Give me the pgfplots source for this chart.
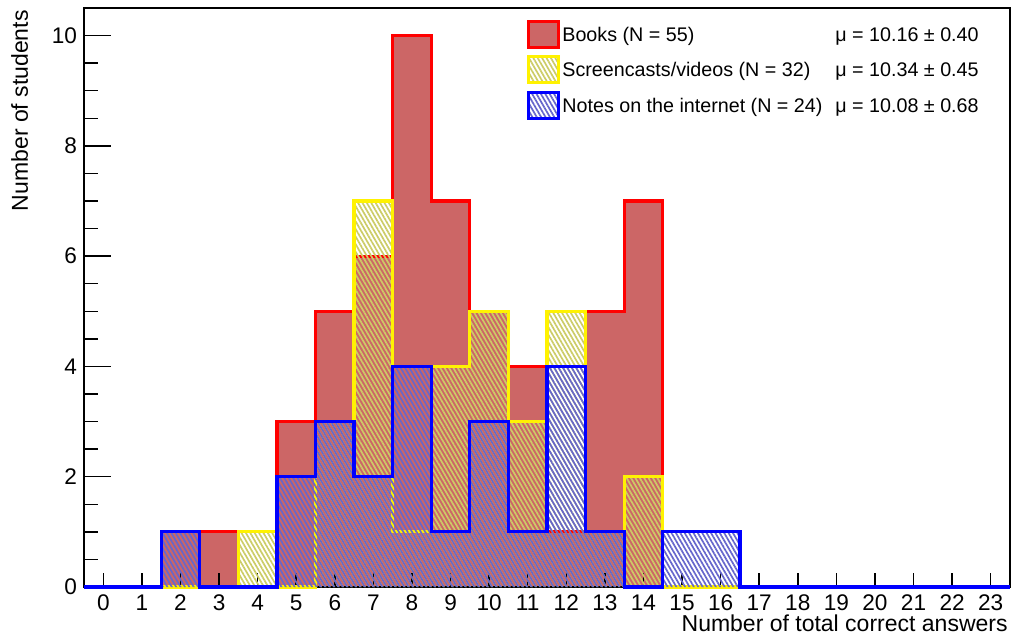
\documentclass[border=0pt]{standalone}
\usepackage{fontspec}
\setmainfont{Liberation Sans}
\usepackage{pgfplots}
\usepackage{pgfplotstable}
\pgfplotsset{compat=1.18}
\usetikzlibrary{patterns.meta}

\definecolor{bookfill}{RGB}{204,102,102}
\definecolor{scrhatch}{RGB}{204,204,102}
\definecolor{notehatch}{RGB}{102,102,204}

% bin left edges; last row closes the final bin
\pgfplotstableread{
edge  books screen notes
-0.5  0  0  0
0.5   0  0  0
1.5   1  0  1
2.5   1  0  0
3.5   0  1  0
4.5   3  0  2
5.5   5  3  3
6.5   6  7  2
7.5   10 1  4
8.5   7  4  1
9.5   5  5  3
10.5  4  3  1
11.5  1  5  4
12.5  5  1  1
13.5  7  2  0
14.5  0  0  1
15.5  0  0  1
16.5  0  0  0
17.5  0  0  0
18.5  0  0  0
19.5  0  0  0
20.5  0  0  0
21.5  0  0  0
22.5  0  0  0
23.5  0  0  0
}\histdata

\newcommand{\txtfont}{\fontsize{11.3}{13.5}\selectfont}
\newcommand{\titlefont}{\fontsize{11.5}{13.8}\selectfont}
\newcommand{\legfont}{\fontsize{9.85}{11.8}\selectfont}
\tikzset{
  hatchY/.style={pattern={Lines[angle=-60,distance=1.9pt,line width=0.85pt]},pattern color=scrhatch},
  hatchB/.style={pattern={Lines[angle=-60,distance=1.9pt,line width=0.85pt]},pattern color=notehatch},
}
\pgfplotsset{
  histframe/.style={
    width=463pt, height=289.5pt, scale only axis,
    xmin=-0.5, xmax=23.5, ymin=0, ymax=10.5,
  },
}

\begin{document}
\begin{tikzpicture}
% first layer: frame, ticks and the solid histogram
\begin{axis}[
  histframe,
  axis on top,
  axis line style={line width=0.75pt},
  tick pos=left,
  tick align=inside,
  xtick={0,...,23},
  minor xtick={0,...,23},
  major x tick style={draw=none},
  ytick={0,2,...,10},
  minor y tick num=3,
  major tick length=13.5pt,
  minor tick length=7pt,
  every tick/.style={black,line width=0.75pt},
  tick label style={font=\txtfont},
  /pgf/number format/assume math mode=true,
  xticklabel style={yshift=-0.5pt},
]
\addplot[const plot, fill=bookfill, draw=none] table[x=edge,y=books]{\histdata} \closedcycle;
\addplot[const plot, draw=red, line width=1.6pt] table[x=edge,y=books]{\histdata};
\coordinate (tl) at (rel axis cs:0,1);
\coordinate (br) at (rel axis cs:1,0);
\end{axis}
% second layer: hatched histograms drawn over the frame
\begin{axis}[histframe, hide axis, clip=false]
\addplot[const plot, hatchY, draw=none] table[x=edge,y=screen]{\histdata} \closedcycle;
\addplot[const plot, draw=yellow, line width=1.6pt] table[x=edge,y=screen]{\histdata};
\addplot[const plot, hatchB, draw=none] table[x=edge,y=notes]{\histdata} \closedcycle;
\addplot[const plot, draw=blue, line width=1.6pt] table[x=edge,y=notes]{\histdata};
\end{axis}

% axis titles
\node[rotate=90, anchor=base east, inner sep=0pt, font=\titlefont] at ([shift={(-28pt,-1pt)}]tl) {Number of students};
\node[anchor=base east, inner sep=0pt, font=\titlefont] at ([shift={(-1pt,-22.3pt)}]br) {Number of total correct answers};

% legend
\newcommand{\legrow}[4]{%
  \draw[#2, line width=1.5pt] ([shift={(222pt,-#1+6.5pt)}]tl) rectangle ([shift={(237pt,-#1-6.5pt)}]tl);
  \node[anchor=base west, inner sep=0pt, font=\legfont] at ([shift={(239pt,-#1-3.7pt)}]tl) {#3};
  \node[anchor=base west, inner sep=0pt, font=\legfont] at ([shift={(375.5pt,-#1-3.7pt)}]tl) {#4};
}
\legrow{13pt}{fill=bookfill,draw=red}{Books (N = 55)}{μ = 10.16 ± 0.40}
\legrow{30.75pt}{hatchY,draw=yellow}{Screencasts/videos (N = 32)}{μ = 10.34 ± 0.45}
\legrow{48.5pt}{hatchB,draw=blue}{Notes on the internet (N = 24)}{μ = 10.08 ± 0.68}

\pgfresetboundingbox
\path[use as bounding box] ([shift={(-42pt,-26pt)}]tl |- br) rectangle ([shift={(0.5pt,4pt)}]br |- tl);
\end{tikzpicture}
\end{document}
